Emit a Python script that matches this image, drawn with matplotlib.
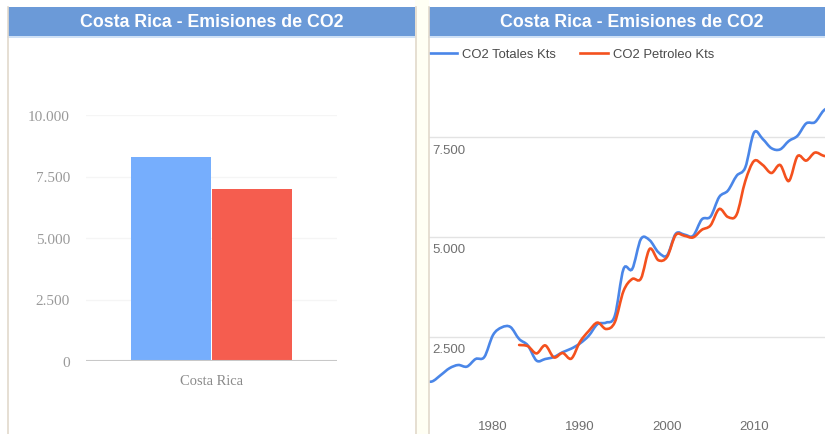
import numpy as np
import matplotlib
matplotlib.use("Agg")
import matplotlib.pyplot as plt
from matplotlib.path import Path
from matplotlib.patches import PathPatch, Rectangle
from matplotlib.lines import Line2D
import matplotlib.transforms as mtransforms

# data
title = "Costa Rica - Emisiones de CO2"
bar_category = ["Costa Rica"]
bar_totales = [8290]
bar_petroleo = [6990]

years_tot = list(range(1972, 2020))
co2_totales = [1400, 1390, 1550, 1720, 1800, 1760, 1950, 2000, 2550, 2740,
               2750, 2450, 2290, 1910, 1950, 2000, 2120, 2210, 2340, 2530,
               2820, 2860, 3030, 4200, 4200, 4950, 4920, 4620, 4540, 5080,
               5060, 5030, 5440, 5510, 6000, 6160, 6530, 6740, 7610, 7450,
               7220, 7190, 7400, 7530, 7840, 7870, 8160, 8290]

years_pet = list(range(1983, 2020))
co2_petroleo = [2300, 2270, 2090, 2290, 1990, 2100, 1960, 2380, 2650, 2860,
                2700, 2870, 3650, 3950, 3960, 4700, 4420, 4500, 5050, 5030,
                4990, 5180, 5290, 5700, 5500, 5560, 6400, 6900, 6800, 6600,
                6800, 6400, 7020, 6910, 7110, 7030, 6990]

y_ticks_bar = [0, 2500, 5000, 7500, 10000]
y_ticks_line = [2500, 5000, 7500]
x_ticks_line = [1980, 1990, 2000, 2010]

W, H = 825, 435
fig = plt.figure(figsize=(W / 100, H / 100), dpi=100)
fig.patch.set_facecolor("white")


def box(x0, y0, x1, y1):
    # pixel box (top-left origin) -> figure fraction rect
    return [x0 / W, 1 - y1 / H, (x1 - x0) / W, (y1 - y0) / H]


def fmt(v):
    return f"{v:,.0f}".replace(",", ".")


def smooth_path(xs, ys):
    # catmull-rom style bezier through the data points
    xs = np.asarray(xs, float)
    ys = np.asarray(ys, float)
    pts = np.column_stack([xs, ys])
    verts = [pts[0]]
    codes = [Path.MOVETO]
    n = len(pts)
    for i in range(n - 1):
        p0 = pts[max(i - 1, 0)]
        p1 = pts[i]
        p2 = pts[i + 1]
        p3 = pts[min(i + 2, n - 1)]
        c1 = p1 + (p2 - p0) / 6.0
        c2 = p2 - (p3 - p1) / 6.0
        verts += [c1, c2, p2]
        codes += [Path.CURVE4] * 3
    return Path(verts, codes)


# panel chrome
bar_col = "#6b9ad8"
border = "#e2d9cc"
fig.patches.append(Rectangle((415 / W, 0), 14 / W, 1, transform=fig.transFigure,
                             facecolor="#fffff4", edgecolor="none", zorder=0))
for (x0, x1, xc) in [(8, 415, 211.5), (429, 825, 632)]:
    fig.patches.append(Rectangle((x0 / W, 1 - 37 / H), (x1 - x0) / W, 29 / H,
                                 transform=fig.transFigure, facecolor=bar_col,
                                 edgecolor="none", zorder=1))
    fig.lines.append(Line2D([x0 / W, x1 / W], [1 - 37.5 / H, 1 - 37.5 / H],
                            transform=fig.transFigure, color="#c6dbf5", lw=1.2))
    fig.text(xc / W, 1 - 22.5 / H, title,
             ha="center", va="center", color="white", fontsize=12.8,
             fontweight="bold", family="Liberation Sans", zorder=3)
for x in [7.5, 415.5, 428.5]:
    fig.lines.append(Line2D([x / W, x / W], [0, 1 - 8 / H], transform=fig.transFigure,
                            color=border, lw=1.2))

# left: bar chart
ax1 = fig.add_axes(box(86, 116, 337, 362))
w = 0.32
xpos = np.arange(len(bar_category))
ax1.bar(xpos - w / 2 - 0.002, bar_totales, width=w, color="#76aefd", zorder=2)
ax1.bar(xpos + w / 2 + 0.002, bar_petroleo, width=w, color="#f55d4f", zorder=2)
ax1.set_xlim(-0.5, 0.5)
ax1.set_ylim(0, 10000)
ax1.set_yticks(y_ticks_bar)
ax1.set_yticklabels([fmt(v) for v in y_ticks_bar], family="Liberation Serif",
                    fontsize=11, color="#9a9a9a")
ax1.set_xticks(xpos)
ax1.set_xticklabels(bar_category, family="Liberation Serif", fontsize=10.5,
                    color="#8a8a8a")
ax1.tick_params(length=0, pad=11.5, axis="y")
ax1.tick_params(length=0, pad=9.5, axis="x")
for v in y_ticks_bar[1:]:
    ax1.axhline(v, color="#f5f5f5", lw=1, zorder=1)
for s in ax1.spines.values():
    s.set_visible(False)
ax1.axhline(0, color="#c8c8c8", lw=1.5, zorder=3)
ax1.set_facecolor("none")

# right: line chart
ax2 = fig.add_axes(box(429, 37, 825, 435))
ax2.set_xlim(1972.64, 2018.16)
ax2.set_ylim(75, 10025)
blue_line = "#4a86e8"
red_line = "#f4511e"
ax2.add_patch(PathPatch(smooth_path(years_tot, co2_totales), facecolor="none",
                        edgecolor=blue_line, lw=1.9, zorder=3, capstyle="round"))
ax2.add_patch(PathPatch(smooth_path(years_pet, co2_petroleo), facecolor="none",
                        edgecolor=red_line, lw=1.9, zorder=3, capstyle="round"))
lab_tr = (mtransforms.blended_transform_factory(ax2.transAxes, ax2.transData)
          + mtransforms.ScaledTranslation(0, -6.5 / 100, fig.dpi_scale_trans))
for v in y_ticks_line:
    ax2.axhline(v, color="#e3e3e3", lw=1, zorder=1)
    ax2.text(0.009, v, fmt(v), transform=lab_tr, ha="left", va="top",
             fontsize=9.5, color="#6f6f6f", family="Liberation Sans")
ax2.set_yticks([])
ax2.set_xticks(x_ticks_line)
ax2.set_xticklabels([str(y) for y in x_ticks_line], family="Liberation Sans",
                    fontsize=9.5, color="#6f6f6f")
ax2.tick_params(axis="x", length=0, pad=-10)
for s in ax2.spines.values():
    s.set_visible(False)
ax2.set_facecolor("none")

handles = [Line2D([], [], color=blue_line, lw=1.9),
           Line2D([], [], color=red_line, lw=1.9)]
leg = ax2.legend(handles, ["CO2 Totales Kts", "CO2 Petroleo Kts"], ncol=2,
                 loc="upper left", bbox_to_anchor=(0.0025, 0.97), frameon=False,
                 borderpad=0, borderaxespad=0,
                 handlelength=2.08, handletextpad=0.4, columnspacing=1.85,
                 prop={"family": "Liberation Sans", "size": 9.4})
for t in leg.get_texts():
    t.set_color("#4a4a4a")

fig.savefig("out.png", dpi=100)
